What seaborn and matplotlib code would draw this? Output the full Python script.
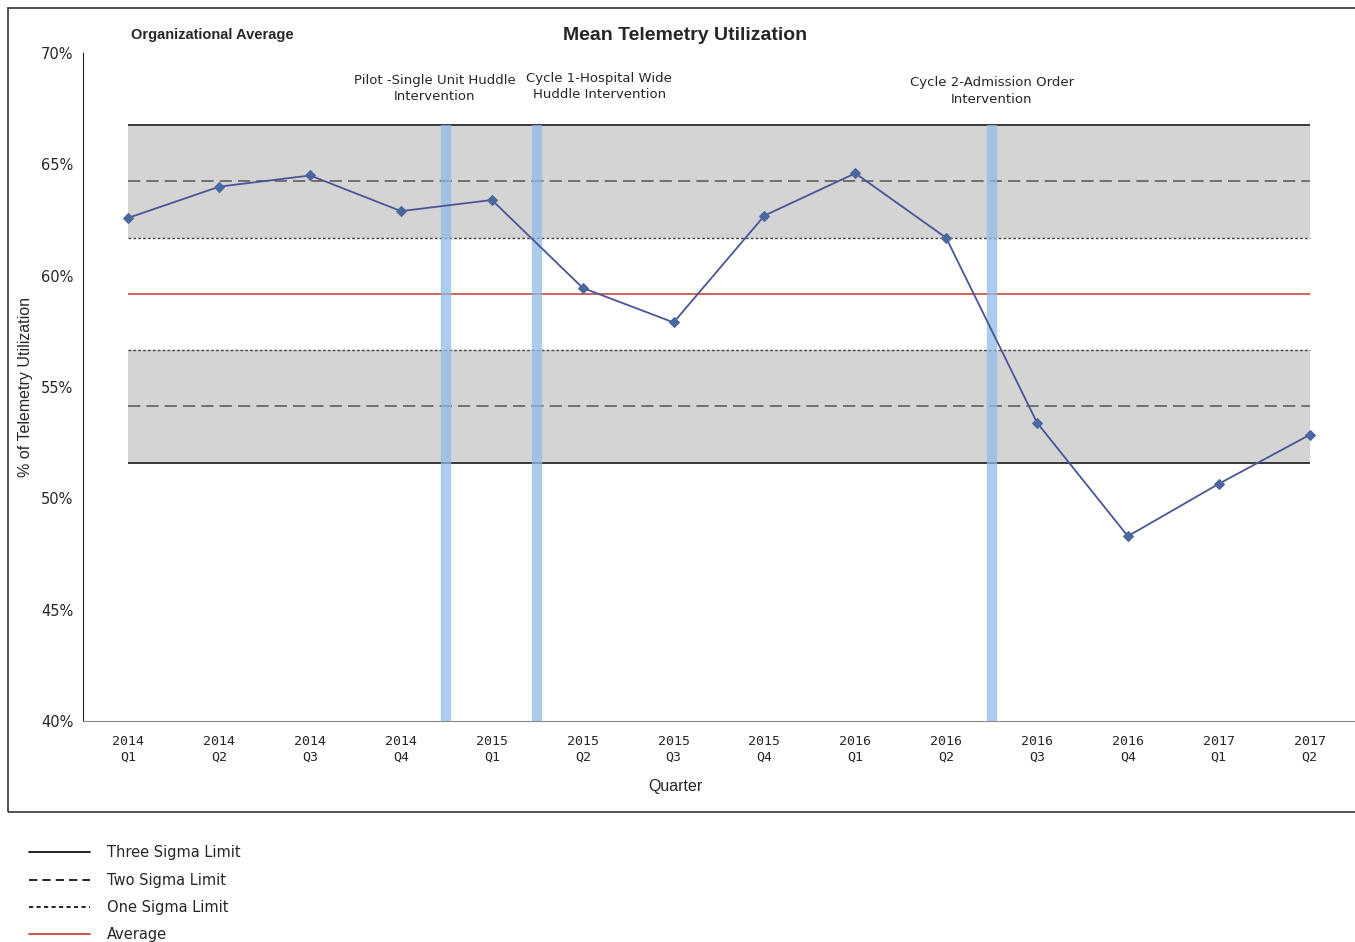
import numpy as np
import pandas as pd
import seaborn as sns
import matplotlib.pyplot as plt
from matplotlib.lines import Line2D
from matplotlib.patches import Rectangle

# quarters and mean telemetry utilization (%)
years = ["2014", "2014", "2014", "2014", "2015", "2015", "2015", "2015",
         "2016", "2016", "2016", "2016", "2017", "2017"]
quarters = ["Q1", "Q2", "Q3", "Q4", "Q1", "Q2", "Q3", "Q4",
            "Q1", "Q2", "Q3", "Q4", "Q1", "Q2"]
utilization = [62.6, 64.0, 64.5, 62.9, 63.4, 59.45, 57.9, 62.7,
               64.6, 61.7, 53.4, 48.3, 50.65, 52.85]

# control limits
average = 59.18
sigma_upper = [61.7, 64.25, 66.77]   # 1, 2, 3 sigma
sigma_lower = [56.66, 54.15, 51.59]

# interventions sit between quarters (index of the quarter before)
interventions = [3, 4, 9]
intervention_labels = ["Pilot -Single Unit Huddle\nIntervention",
                       "Cycle 1-Hospital Wide\nHuddle Intervention",
                       "Cycle 2-Admission Order\nIntervention"]

df = pd.DataFrame({"pos": np.arange(len(utilization)),
                   "label": [f"{y}\n{q}" for y, q in zip(years, quarters)],
                   "util": utilization})

sns.set_style("white")
plt.rcParams['font.family'] = ['Liberation Sans', 'DejaVu Sans']

fig = plt.figure(figsize=(13.55, 9.42), dpi=100)
ax = fig.add_axes([0.0613, 0.2346, 0.9387, 0.7091])

first, last = df["pos"].iloc[0], df["pos"].iloc[-1]

# grey bands between 1 and 3 sigma
ax.fill_between([first, last], sigma_upper[0], sigma_upper[2], color="#d4d4d4", lw=0, zorder=1)
ax.fill_between([first, last], sigma_lower[2], sigma_lower[0], color="#d4d4d4", lw=0, zorder=1)

ax.hlines([sigma_upper[2], sigma_lower[2]], first, last, color="#2a2a2a", lw=1.3, zorder=2)
ax.hlines([sigma_upper[1], sigma_lower[1]], first, last, color="#555555", lw=1.1,
          linestyles=(0, (8, 4)), zorder=2)
ax.hlines([sigma_upper[0], sigma_lower[0]], first, last, color="#444444", lw=1.0,
          linestyles=(0, (2, 1.5)), zorder=2)
ax.hlines(average, first, last, color="#c0392b", lw=1.1, zorder=2)

# intervention bars
for i in interventions:
    ax.vlines(i + 0.5, 40, sigma_upper[2], color="#8fbbe6", lw=7.5, alpha=0.75, zorder=3)

sns.lineplot(data=df, x="pos", y="util", ax=ax, color="#4a5599", lw=1.3,
             marker="D", markersize=5.5, markerfacecolor="#4a679e",
             markeredgecolor="#4a679e", zorder=4)

# annotations
ann_x = [3.37, 5.18, 9.5]
ann_y = [68.4, 68.5, 68.3]
for xx, lab, yy in zip(ann_x, intervention_labels, ann_y):
    ax.text(xx, yy, lab, ha="center", va="center", fontsize=9.5, linespacing=1.35,
            family=["Liberation Sans Narrow", "DejaVu Sans"])

ax.set_xlim(-0.5, len(utilization) - 0.5)
ax.set_ylim(40, 70)
ax.set_yticks(np.arange(40, 71, 5))
ax.set_yticklabels([f"{v}%" for v in range(40, 71, 5)], fontsize=10.5,
                   family=["Liberation Sans Narrow", "DejaVu Sans"])

ax.set_xticks(np.arange(-0.5, len(utilization), 1.0))
ax.set_xticklabels([])
ax.set_xticks(df["pos"], minor=True)
ax.set_xticklabels(df["label"], minor=True, fontsize=9.5, family="DejaVu Sans Mono",
                   linespacing=1.3)
ax.tick_params(axis="x", which="major", direction="inout", length=12, color="#888888")
ax.tick_params(axis="x", which="minor", length=0, pad=10)
ax.tick_params(axis="y", direction="out", length=4, color="#333333", pad=3)

for s in ["top", "right"]:
    ax.spines[s].set_visible(False)
ax.spines["left"].set_color("#222222")
ax.spines["bottom"].set_color("#888888")

ax.set_xlabel("Quarter", fontsize=11.5)
ax.xaxis.set_label_coords(0.466, -0.087)
ax.set_ylabel("% of Telemetry Utilization", fontsize=11.5)
ax.yaxis.set_label_coords(-0.039, 0.5)

fig.text(0.5055, 0.962, "Mean Telemetry Utilization", ha="center", va="center",
         fontsize=14, fontweight="bold")
fig.text(0.0967, 0.963, "Organizational Average", ha="left", va="center",
         fontsize=10.5, fontweight="bold")

# outer chart border
fig.patches.append(Rectangle((0.006, 0.138), 1.0, 0.8535, transform=fig.transFigure,
                             fill=False, ec="#333333", lw=1.2))

handles = [Line2D([], [], color="black", lw=1.2),
           Line2D([], [], color="black", lw=1.2, ls=(0, (5, 3))),
           Line2D([], [], color="black", lw=1.2, ls=(0, (2.5, 2))),
           Line2D([], [], color="#c0392b", lw=1.2)]
fig.legend(handles, ["Three Sigma Limit", "Two Sigma Limit", "One Sigma Limit", "Average"],
           loc="upper left", bbox_to_anchor=(0.0135, 0.1135), frameon=False,
           handlelength=4.2, handletextpad=1.2, labelspacing=0.85, borderpad=0.2,
           prop={"family": "DejaVu Sans", "size": 10.5})

fig.savefig("out.png", dpi=100)
